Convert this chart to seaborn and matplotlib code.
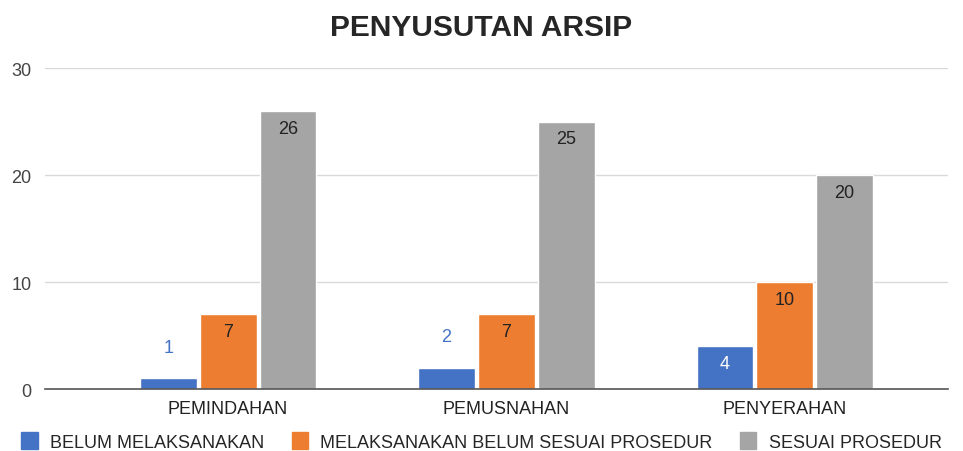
import pandas as pd
import matplotlib.pyplot as plt
import seaborn as sns

# chart data
categories = ['PEMINDAHAN', 'PEMUSNAHAN', 'PENYERAHAN']
series_names = ['BELUM MELAKSANAKAN', 'MELAKSANAKAN BELUM SESUAI PROSEDUR', 'SESUAI PROSEDUR']
belum = [1, 2, 4]
belum_sesuai = [7, 7, 10]
sesuai = [26, 25, 20]
y_ticks = [0, 10, 20, 30]
colors = ['#4472C4', '#ED7D31', '#A5A5A5']

rows = []
for name, vals in zip(series_names, [belum, belum_sesuai, sesuai]):
    for cat, v in zip(categories, vals):
        rows.append({'kategori': cat, 'seri': name, 'nilai': v})
df = pd.DataFrame(rows)

sns.set_theme(style='white')
plt.rcParams['font.family'] = ['Liberation Sans', 'DejaVu Sans']

fig = plt.figure(figsize=(9.63, 4.52), dpi=100)
ax = fig.add_axes([0.047, 0.137, 0.937, 0.71])

sns.barplot(data=df, x='kategori', y='nilai', hue='seri', order=categories,
            hue_order=series_names, palette=colors, width=0.645, gap=0.05,
            saturation=1, ax=ax, legend=False)

ax.set_xlim(-0.657, 2.585)
ax.set_ylim(0, 30)
ax.set_yticks(y_ticks)
ax.yaxis.grid(True, color='#D9D9D9', linewidth=1)
ax.set_axisbelow(True)
for s in ['top', 'right', 'left']:
    ax.spines[s].set_visible(False)
ax.spines['bottom'].set_color('#555555')
ax.spines['bottom'].set_linewidth(1.2)
ax.set_xlabel('')
ax.set_ylabel('')
ax.tick_params(axis='y', length=0, labelsize=13, labelcolor='#444444', pad=10)
ax.tick_params(axis='x', length=0, labelsize=13, labelcolor='#222222', pad=8)

# data labels
for cont, name in zip(ax.containers, series_names):
    for bar in cont:
        h = bar.get_height()
        xc = bar.get_x() + bar.get_width() / 2
        if h < 3:
            ax.text(xc, h + 2.1, f'{int(h)}', ha='center', va='bottom',
                    fontsize=13, color='#4472C4')
        else:
            tc = 'white' if name == series_names[0] else '#222222'
            ax.text(xc, h - 0.8, f'{int(h)}', ha='center', va='top',
                    fontsize=13, color=tc)

handles = [plt.Rectangle((0, 0), 1, 1, color=c) for c in colors]
fig.legend(handles, series_names, loc='lower center', ncol=3,
           bbox_to_anchor=(0.5, -0.035), frameon=False, fontsize=13,
           handlelength=0.9, handleheight=1.1, columnspacing=1.5,
           handletextpad=0.7)

fig.text(0.5, 0.937, 'PENYUSUTAN ARSIP', ha='center', va='center',
         fontsize=21.5, fontweight='bold')

fig.savefig('out.png', dpi=100)
